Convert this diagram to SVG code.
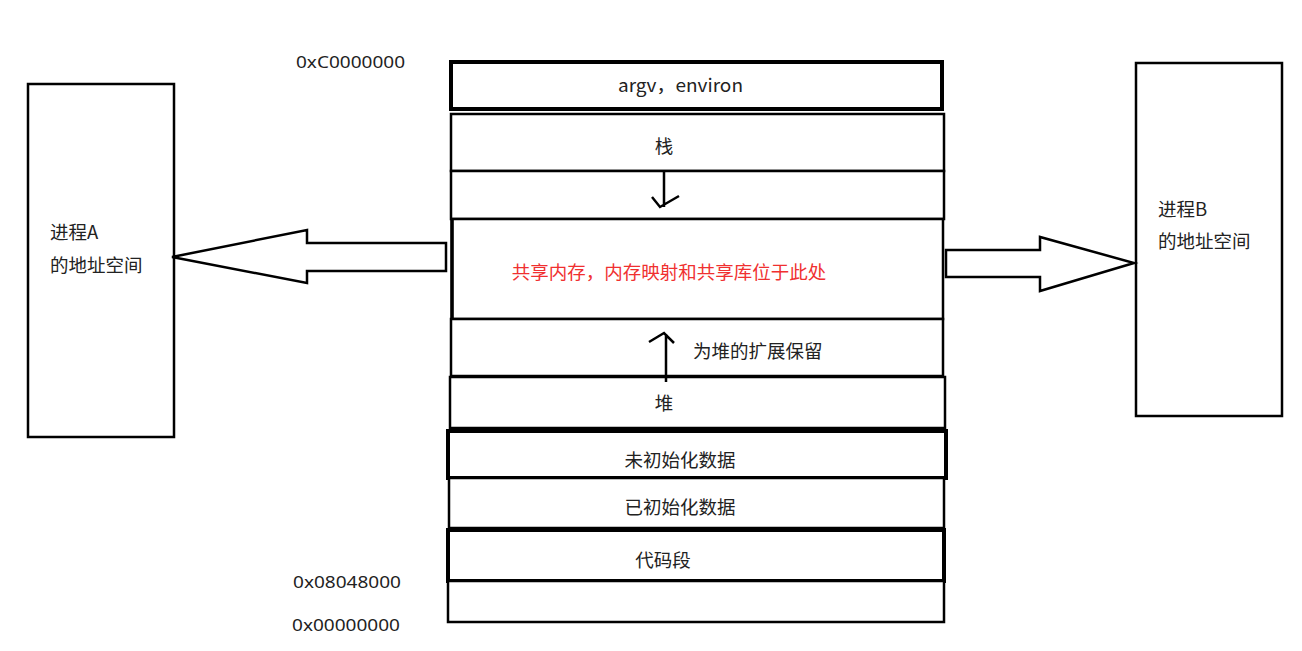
<svg xmlns="http://www.w3.org/2000/svg" width="1302" height="651" viewBox="0 0 1302 651">
<style>
.box{fill:#fff;stroke:#000;stroke-width:2.5}
.thick{fill:#fff;stroke:#000;stroke-width:4}
.t{font-family:"Noto Sans CJK SC","Noto Sans",sans-serif;font-size:18.5px;fill:#222}
.hex{font-family:"Noto Sans","Noto Sans CJK SC",sans-serif;font-size:17px;fill:#222}
.red{fill:#f03030}
.ln{fill:none;stroke:#000;stroke-width:2.5}
</style>
<rect width="1302" height="651" fill="#fff"/>
<g id="procA">
<rect class="box" x="28" y="84" width="146" height="353"/>
<text class="t" x="50" y="239">进程A</text>
<text class="t" x="50" y="272">的地址空间</text>
</g>
<g id="procB">
<rect class="box" x="1136" y="63" width="146" height="353"/>
<text class="t" x="1158" y="216">进程B</text>
<text class="t" x="1158" y="248">的地址空间</text>
</g>
<g id="argv"><rect class="thick" x="451" y="62" width="491" height="47"/><text class="t" x="618" y="92" textLength="125" lengthAdjust="spacingAndGlyphs">argv，environ</text></g>
<g id="stack"><rect class="box" x="451" y="114" width="493" height="57"/><text class="t" x="664" y="153" text-anchor="middle">栈</text></g>
<g id="gap1"><rect class="box" x="451" y="171" width="493" height="48"/></g>
<g id="shared"><rect class="box" x="452" y="219" width="491" height="100"/><line x1="452" y1="219" x2="452" y2="319" stroke="#000" stroke-width="3.5"/><text class="t red" x="669" y="279" text-anchor="middle">共享内存，内存映射和共享库位于此处</text></g>
<g id="reserve"><rect class="box" x="451" y="319" width="492" height="57"/><text class="t" x="693" y="358">为堆的扩展保留</text></g>
<g id="heap"><rect class="box" x="450" y="377" width="495" height="51"/><text class="t" x="664" y="410" text-anchor="middle">堆</text></g>
<g id="bss"><rect class="thick" x="448" y="431" width="498" height="47"/><text class="t" x="680" y="467" text-anchor="middle">未初始化数据</text></g>
<g id="data"><rect class="box" x="449" y="478" width="495" height="50"/><text class="t" x="680" y="514" text-anchor="middle">已初始化数据</text></g>
<g id="text"><rect class="thick" x="448" y="530" width="496" height="51"/><text class="t" x="663" y="567" text-anchor="middle">代码段</text></g>
<g id="low"><rect class="box" x="448" y="581" width="496" height="41"/></g>
<g id="labels">
<text class="hex" x="296" y="68" textLength="109" lengthAdjust="spacingAndGlyphs">0xC0000000</text>
<text class="hex" x="293" y="588" textLength="108" lengthAdjust="spacingAndGlyphs">0x08048000</text>
<text class="hex" x="292" y="631" textLength="108" lengthAdjust="spacingAndGlyphs">0x00000000</text>
</g>
<g id="connectors">
<path class="ln" d="M664 172 V207 M652 197 L660 207 L679 196"/>
<path class="ln" d="M666 382 V334 M649 342 L664 333 L674 343"/>
<polygon class="ln" fill="#fff" points="172,257 307,230 307,243 446,243 446,271 307,271 307,283"/>
<polygon class="ln" fill="#fff" points="946,250 1040,250 1040,237 1134,263 1040,291 1040,277 946,277"/>
</g>
</svg>
